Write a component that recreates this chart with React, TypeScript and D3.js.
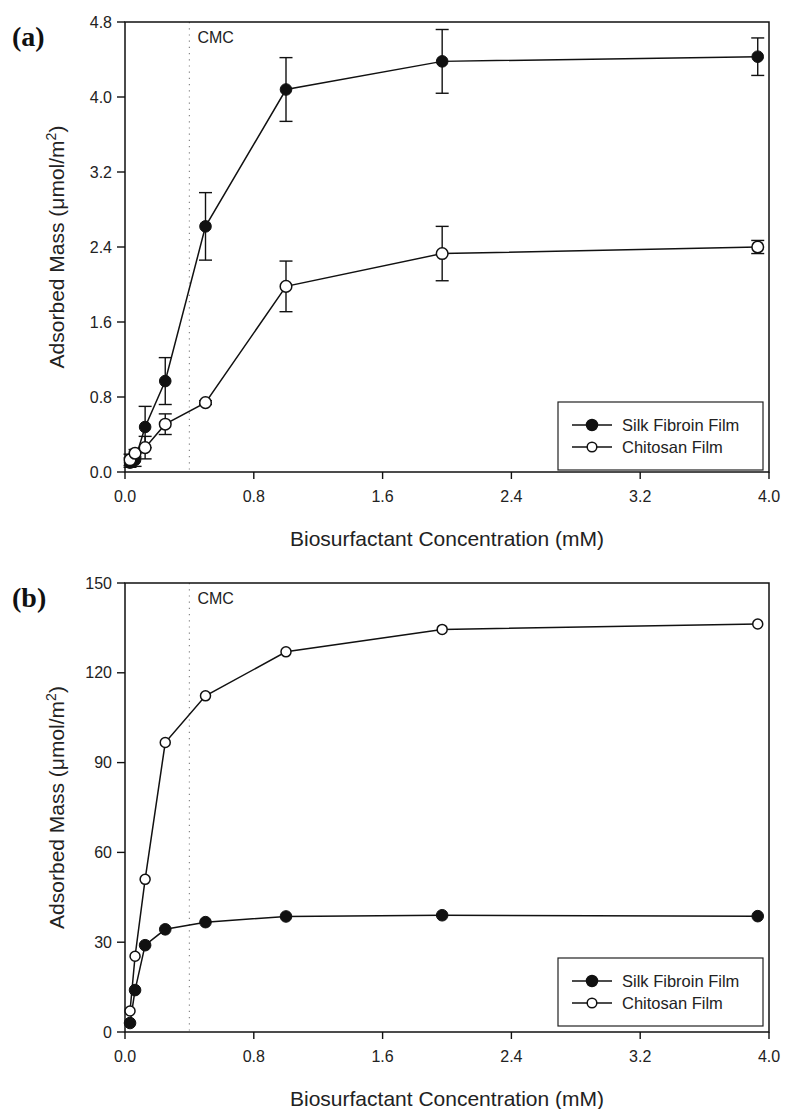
import React from "react";
import * as d3 from "d3";

const conc = [0.03125, 0.0625, 0.125, 0.25, 0.5, 1, 1.97, 3.93];
const silkA = [0.1, 0.13, 0.48, 0.97, 2.62, 4.08, 4.38, 4.43];
const silkAErr = [0.05, 0.07, 0.22, 0.25, 0.36, 0.34, 0.34, 0.2];
const chitA = [0.13, 0.2, 0.26, 0.51, 0.74, 1.98, 2.33, 2.4];
const chitAErr = [0.06, 0.04, 0.12, 0.11, 0.02, 0.27, 0.29, 0.07];
const silkB = [3, 14, 29, 34.3, 36.7, 38.6, 39, 38.7];
const chitB = [7, 25.3, 51, 96.7, 112.3, 127, 134.5, 136.3];
const xTicks = [0, 0.8, 1.6, 2.4, 3.2, 4.0];
const yTicksA = [0, 0.8, 1.6, 2.4, 3.2, 4.0, 4.8];
const yTicksB = [0, 30, 60, 90, 120, 150];
const cmc = 0.4;
const seriesNames = ["Silk Fibroin Film", "Chitosan Film"];

const FONT = "'Liberation Sans', Arial, Helvetica, sans-serif";

type PanelProps = {
  top: number;
  bottom: number;
  yMax: number;
  yTicks: number[];
  yFmt: (v: number) => string;
  silk: number[];
  chit: number[];
  silkErr?: number[];
  chitErr?: number[];
  label: string;
  legendTop: number;
  rOpen: number;
  rFilled: number;
};

function Panel(p: PanelProps) {
  const left = 125;
  const right = 769;
  const x = d3.scaleLinear().domain([0, 4]).range([left, right]);
  const y = d3.scaleLinear().domain([0, p.yMax]).range([p.bottom, p.top]);
  const line = d3
    .line<number>()
    .x((_, i) => x(conc[i]))
    .y((v) => y(v));
  const cap = 6.5;
  const errBars = (vals: number[], errs?: number[]) =>
    errs
      ? vals.map((v, i) => (
          <g key={i} stroke="#111" strokeWidth={1.4}>
            <line x1={x(conc[i])} x2={x(conc[i])} y1={y(v - errs[i])} y2={y(v + errs[i])} />
            <line x1={x(conc[i]) - cap} x2={x(conc[i]) + cap} y1={y(v + errs[i])} y2={y(v + errs[i])} />
            <line x1={x(conc[i]) - cap} x2={x(conc[i]) + cap} y1={y(v - errs[i])} y2={y(v - errs[i])} />
          </g>
        ))
      : null;
  const midY = (p.top + p.bottom) / 2;
  const lg = p.legendTop;
  return (
    <g>
      {/* CMC line */}
      <line
        x1={x(cmc)}
        x2={x(cmc)}
        y1={p.top}
        y2={p.bottom}
        stroke="#888"
        strokeWidth={1.2}
        strokeDasharray="1.2 5"
      />
      <text x={x(cmc) + 8} y={p.top + 21} fontFamily={FONT} fontSize={16} fill="#222">
        CMC
      </text>
      {/* frame */}
      <rect x={left} y={p.top} width={right - left} height={p.bottom - p.top} fill="none" stroke="#111" strokeWidth={1.5} />
      {/* x ticks */}
      {xTicks.map((t) => (
        <g key={t}>
          <line x1={x(t)} x2={x(t)} y1={p.bottom} y2={p.bottom + 7} stroke="#111" strokeWidth={1.4} />
          <text x={x(t)} y={p.bottom + 30} textAnchor="middle" fontFamily={FONT} fontSize={16} fill="#222">
            {t.toFixed(1)}
          </text>
        </g>
      ))}
      {/* y ticks */}
      {p.yTicks.map((t) => (
        <g key={t}>
          <line x1={left - 8} x2={left} y1={y(t)} y2={y(t)} stroke="#111" strokeWidth={1.4} />
          <text x={left - 13} y={y(t) + 5.5} textAnchor="end" fontFamily={FONT} fontSize={16} fill="#222">
            {p.yFmt(t)}
          </text>
        </g>
      ))}
      {/* titles */}
      <text x={447} y={p.bottom + 74} textAnchor="middle" fontFamily={FONT} fontSize={21} fill="#222">
        Biosurfactant Concentration (mM)
      </text>
      <text
        transform={`translate(64,${midY}) rotate(-90)`}
        textAnchor="middle"
        fontFamily={FONT}
        fontSize={21}
        fill="#222"
      >
        Adsorbed Mass (μmol/m
        <tspan dy={-8} fontSize={14}>
          2
        </tspan>
        <tspan dy={8}>)</tspan>
      </text>
      <text x={12} y={p.top + 24} fontFamily="'Liberation Serif', 'Times New Roman', serif" fontWeight="bold" fontSize={28} fill="#111">
        {p.label}
      </text>
      {/* series */}
      {errBars(p.silk, p.silkErr)}
      {errBars(p.chit, p.chitErr)}
      <path d={line(p.silk) || ""} fill="none" stroke="#111" strokeWidth={1.5} />
      <path d={line(p.chit) || ""} fill="none" stroke="#111" strokeWidth={1.5} />
      {p.silk.map((v, i) => (
        <circle key={"s" + i} cx={x(conc[i])} cy={y(v)} r={p.rFilled} fill="#111" stroke="#111" strokeWidth={1} />
      ))}
      {p.chit.map((v, i) => (
        <circle key={"c" + i} cx={x(conc[i])} cy={y(v)} r={p.rOpen} fill="#fff" stroke="#111" strokeWidth={1.5} />
      ))}
      {/* legend */}
      <rect x={558} y={lg} width={205} height={68} fill="#fff" stroke="#222" strokeWidth={1.2} />
      {seriesNames.map((name, i) => {
        const yy = lg + 23 + i * 22;
        return (
          <g key={name}>
            <line x1={572} x2={612} y1={yy} y2={yy} stroke="#111" strokeWidth={1.5} />
            <circle
              cx={592}
              cy={yy}
              r={i === 0 ? 5.5 : 4.8}
              fill={i === 0 ? "#111" : "#fff"}
              stroke="#111"
              strokeWidth={1.5}
            />
            <text x={622} y={yy + 6} fontFamily={FONT} fontSize={16.5} fill="#222">
              {name}
            </text>
          </g>
        );
      })}
    </g>
  );
}

export default function App() {
  return (
    <svg
      width={785}
      height={1109}
      viewBox="0 0 785 1109"
      style={{ position: "absolute", left: 0, top: 0, background: "#fff" }}
    >
      <rect x={0} y={0} width={785} height={1109} fill="#fff" />
      <Panel
        top={22}
        bottom={472}
        yMax={4.8}
        yTicks={yTicksA}
        yFmt={(v) => v.toFixed(1)}
        silk={silkA}
        chit={chitA}
        silkErr={silkAErr}
        chitErr={chitAErr}
        label="(a)"
        legendTop={402}
        rOpen={5.8}
        rFilled={5.8}
      />
      <Panel
        top={583}
        bottom={1032}
        yMax={150}
        yTicks={yTicksB}
        yFmt={(v) => String(v)}
        silk={silkB}
        chit={chitB}
        label="(b)"
        legendTop={958}
        rOpen={5}
        rFilled={5.8}
      />
    </svg>
  );
}
